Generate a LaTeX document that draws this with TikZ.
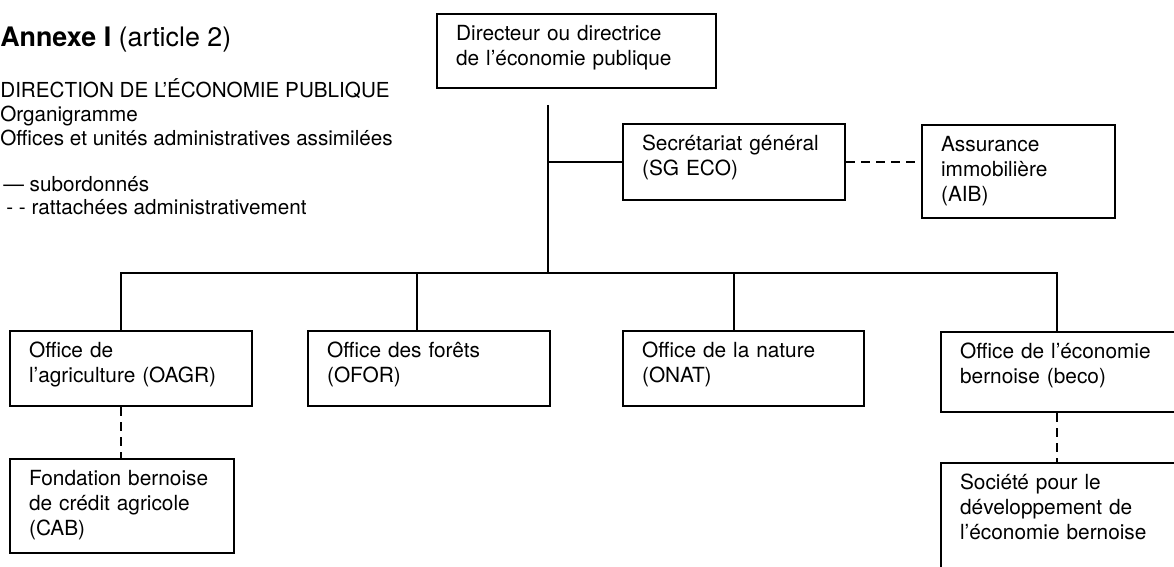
\documentclass[tikz,border=0pt]{standalone}
\usepackage{fontspec}
\setmainfont{TeX Gyre Heros}

\begin{document}
\begin{tikzpicture}[x=0.6pt, y=-0.6pt,
    unit/.style={draw, line width=1.3pt, rectangle, anchor=north west, align=left,
        inner xsep=11.4pt, inner ysep=0pt, text height=15.6pt, font=\fontsize{12.5}{15}\selectfont},
    sub/.style={line width=1.3pt},
    att/.style={line width=1.3pt, dash pattern=on 5.4pt off 3.6pt},
    txt/.style={anchor=base west, inner sep=0pt, font=\fontsize{12.4}{15}\selectfont}
]
\useasboundingbox (0,0) rectangle (1174,567);
\clip (0,0) rectangle (1174,567);

% titre et legende
\node[txt, font=\fontsize{16.1}{18}\selectfont] (title) at (0,47) {\textbf{Annexe I} (article 2)};
\node[txt] (head) at (0,98) {DIRECTION DE L'ÉCONOMIE PUBLIQUE};
\node[txt] (org) at (0,122) {Organigramme};
\node[txt] (offices) at (0,146) {Offices et unités administratives assimilées};
\node[txt] (leg1) at (3,192) {— subordonnés};
\node[txt] (leg2) at (6,215) {- - rattachées administrativement};

% direction
\node[unit, text width=144.6pt, text depth=28.8pt] (dir) at (436,13) {Directeur ou directrice\\de l'économie publique};
\node[unit, text width=110.4pt, text depth=30pt] (sg) at (622,123) {Secrétariat général\\(SG ECO)};
\node[unit, text width=93pt, text depth=40.2pt] (aib) at (921,124) {Assurance\\immobilière\\(AIB)};

% offices
\node[unit, text width=122.4pt, text depth=29.4pt] (oagr) at (9,330) {Office de\\l'agriculture (OAGR)};
\node[unit, text width=122.4pt, text depth=29.4pt] (ofor) at (307,330) {Office des forêts\\(OFOR)};
\node[unit, text width=121.8pt, text depth=29.4pt] (onat) at (622,330) {Office de la nature\\(ONAT)};
\node[unit, text width=122.4pt, text depth=32.4pt] (beco) at (940,331) {Office de l'économie\\bernoise (beco)};

% unites rattachees
\node[unit, text width=111.6pt, text depth=40.8pt] (cab) at (9,458) {Fondation bernoise\\de crédit agricole\\(CAB)};
\node[unit, text width=122.4pt, text depth=56.4pt] (sdeb) at (940,462) {Société pour le\\développement de\\l'économie bernoise};

% liens
\coordinate (trunk) at (548,105);
\coordinate (bus) at (548,273);
\coordinate (oagr-in) at ([shift={(112,0)}]oagr.north west);
\coordinate (ofor-in) at ([shift={(110,0)}]ofor.north west);
\coordinate (onat-in) at ([shift={(112,0)}]onat.north west);
\coordinate (beco-in) at ([shift={(117,0)}]beco.north west);

\draw[sub] (trunk) -- (bus);
\draw[sub] (sg.west -| trunk) -- (sg.west);
\draw[att] (sg.east) -- (sg.east -| aib.west);
\draw[sub] (oagr-in) -- (oagr-in |- bus) -- (beco-in |- bus) -- (beco-in);
\draw[sub] (ofor-in) -- (ofor-in |- bus);
\draw[sub] (onat-in) -- (onat-in |- bus);
\draw[att] (oagr.south -| oagr-in) -- (cab.north -| oagr-in);
\draw[att] (beco.south -| beco-in) -- (sdeb.north -| beco-in);
\end{tikzpicture}
\end{document}
